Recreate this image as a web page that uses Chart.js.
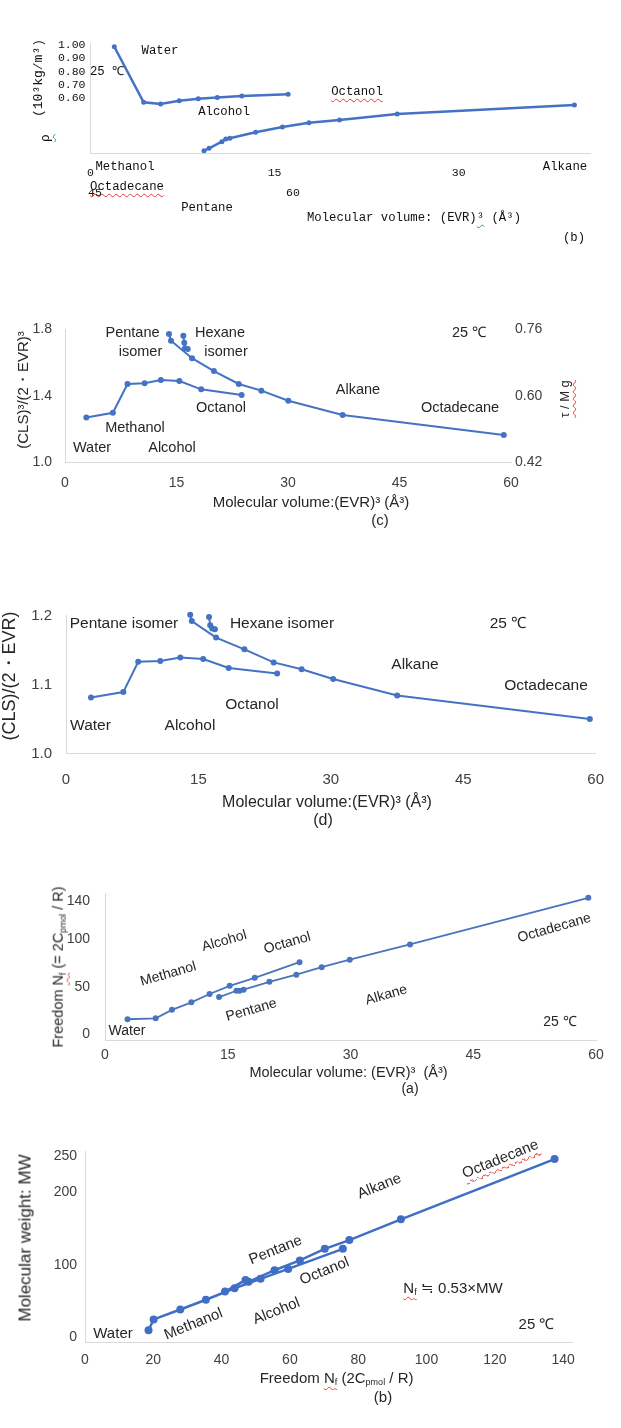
<!DOCTYPE html>
<html>
<head>
<meta charset="utf-8">
<script src="https://cdn.jsdelivr.net/npm/chart.js@4.4.1/dist/chart.umd.min.js"></script>
<style>
  body { margin: 0; background: #fff; }
  #page { position: relative; width: 621px; height: 1428px; overflow: hidden; background: #fff; }
  canvas { position: absolute; left: 0; }
  .t {
    position: absolute; white-space: nowrap; line-height: 1;
    color: #262626; font-family: "Liberation Sans", Arial, sans-serif;
  }
  .mono { font-family: "Liberation Mono", "DejaVu Sans Mono", monospace; color: #111; }
  .sq { text-decoration: underline wavy #e23b3b; text-underline-offset: 3px; text-decoration-thickness: 1px; }
  .sqg { text-decoration: underline wavy #3a9a3a; text-underline-offset: 3px; text-decoration-thickness: 1px; }
  sub { font-size: 0.6em; vertical-align: -0.3em; line-height: 0; }
</style>
</head>
<body>
<div id="page"></div>
<script>
// ========================================
// Data
// ========================================

// (b) density vs molecular volume (top panel)
const rhoAlcoholVol = [1.94, 4.33, 5.71, 7.23, 8.78, 10.33, 12.33, 16.1];
const rhoAlcohol    = [0.987, 0.570, 0.557, 0.582, 0.597, 0.607, 0.617, 0.630];
const rhoAlkaneVol  = [9.25, 9.66, 10.7, 11.02, 11.35, 13.45, 15.64, 17.8, 20.29, 24.99, 39.43];
const rhoAlkane     = [0.207, 0.225, 0.275, 0.295, 0.300, 0.345, 0.385, 0.417, 0.437, 0.482, 0.550];
const rhoXTicks = [0, 15, 30];
const rhoYTicks = [0.6, 0.7, 0.8, 0.9, 1.0];

// (c) (CLS)^3/(2*EVR)^3 vs molecular volume
const cubeAlcoholVol = [2.87, 6.44, 8.41, 10.71, 12.89, 15.39, 18.32, 23.76];
const cubeAlcohol    = [1.270, 1.298, 1.471, 1.475, 1.495, 1.489, 1.439, 1.405];
const cubeAlkaneVol  = [13.99, 14.26, 17.09, 20.03, 23.38, 26.42, 30.04, 37.35, 59.03];
const cubeAlkane     = [1.772, 1.731, 1.626, 1.549, 1.471, 1.431, 1.370, 1.284, 1.164];
const cubeHexaneVol  = [15.92, 16.05, 16.14, 16.51];
const cubeHexane     = [1.761, 1.719, 1.686, 1.681];
const cubeXTicks = [0, 15, 30, 45, 60];
const cubeYTicks = [1.0, 1.4, 1.8];
const cubeRightLabels = ['0.42', '0.60', '0.76'];

// (d) (CLS)/(2*EVR) vs molecular volume
const ratioAlcoholVol = [2.83, 6.49, 8.18, 10.68, 12.95, 15.54, 18.43, 23.92];
const ratioAlcohol    = [1.081, 1.089, 1.133, 1.134, 1.139, 1.137, 1.124, 1.116];
const ratioAlkaneVol  = [14.07, 14.25, 17.0, 20.21, 23.52, 26.69, 30.26, 37.52, 59.34];
const ratioAlkane     = [1.201, 1.192, 1.168, 1.151, 1.132, 1.122, 1.108, 1.084, 1.050];
const ratioHexaneVol  = [16.2, 16.34, 16.56, 16.87];
const ratioHexane     = [1.198, 1.186, 1.181, 1.180];
const ratioXTicks = [0, 15, 30, 45, 60];
const ratioYTicks = [1.0, 1.1, 1.2];

// (a) freedom Nf vs molecular volume
const nfAlcoholVol = [2.75, 6.19, 8.18, 10.55, 12.78, 15.24, 18.3, 23.77];
const nfAlcohol    = [16.0, 17.0, 25.9, 33.8, 42.6, 51.2, 59.7, 76.1];
const nfAlkaneVol  = [13.94, 16.06, 16.45, 16.94, 20.09, 23.38, 26.48, 29.91, 37.27, 59.06];
const nfAlkane     = [39.4, 46.0, 46.0, 47.2, 55.4, 63.0, 70.9, 78.7, 94.8, 144.0];
const nfXTicks = [0, 15, 30, 45, 60];
const nfYTicks = [0, 50, 100, 140];

// (b) molecular weight vs freedom Nf (bottom panel)
const mwAlcoholNf = [18.6, 20.1, 27.9, 35.4, 43.8, 51.4, 59.5, 75.5];
const mwAlcohol   = [9.1, 24.1, 37.8, 51.4, 67.3, 80.4, 94.1, 121.9];
const mwAlkaneNf  = [41.0, 47.0, 47.9, 55.5, 62.9, 70.2, 77.4, 92.5, 137.5];
const mwAlkane    = [62.7, 78.7, 76.3, 92.3, 105.9, 121.9, 134.1, 162.8, 246.3];
const mwXTicks = [0, 20, 40, 60, 80, 100, 120, 140];
const mwYTicks = [0, 100, 200, 250];

// ========================================
// Helpers
// ========================================
const page = document.getElementById('page');
const SANS = '"Liberation Sans", Arial, sans-serif';
const MONO = '"Liberation Mono", "DejaVu Sans Mono", monospace';

function pts(xs, ys) {
    return xs.map((x, i) => ({ x: x, y: ys[i] }));
}

function series(xs, ys, st) {
    return {
        data: pts(xs, ys),
        showLine: true,
        borderColor: st.color,
        backgroundColor: st.color,
        pointBackgroundColor: st.color,
        pointBorderColor: st.color,
        pointRadius: st.radius,
        pointBorderWidth: 0,
        borderWidth: st.width,
        clip: false,
        yAxisID: 'y'
    };
}

// the scale box is given a fixed size so the plot area lands where it is in the picture
function axis(a, common, horizontal, size) {
    return {
        type: 'linear',
        min: a.min,
        max: a.max,
        afterBuildTicks: s => { s.ticks = a.ticks.map(v => ({ value: v })); },
        afterFit: s => { if (horizontal) s.height = size; else s.width = size; },
        grid: { display: false, drawTicks: false },
        border: { display: a.border !== false, color: '#d9d9d9', width: 1 },
        ticks: {
            autoSkip: false,
            maxRotation: 0,
            padding: a.pad,
            color: common.color,
            font: common.font,
            callback: a.fmt || (v => String(v))
        }
    };
}

function panel(p) {
    const cv = document.createElement('canvas');
    cv.width = 621;
    cv.height = p.height;
    cv.style.top = p.top + 'px';
    page.appendChild(cv);

    const common = { color: p.tickColor || '#404040', font: p.tickFont };
    const scales = {
        x: axis(p.x, common, true, p.area.bottom),
        y: axis(p.y, common, false, p.area.left)
    };
    if (p.y1) {
        scales.y1 = axis(p.y1, common, false, p.area.right);
        scales.y1.position = 'right';
    }

    new Chart(cv, {
        type: 'scatter',
        data: { datasets: p.datasets },
        options: {
            responsive: false,
            animation: false,
            events: [],
            layout: { padding: { left: 0, bottom: 0, top: p.area.top, right: p.y1 ? 0 : p.area.right } },
            plugins: { legend: { display: false }, tooltip: { enabled: false } },
            scales: scales
        }
    });
}

function note(html, x, y, size, rot, cls) {
    const d = document.createElement('div');
    d.className = 't' + (cls ? ' ' + cls : '');
    d.innerHTML = html;
    d.style.left = x + 'px';
    d.style.top = y + 'px';
    d.style.fontSize = size + 'px';
    d.style.transform = 'translate(-50%,-50%) rotate(' + (rot || 0) + 'deg)';
    page.appendChild(d);
}

// ========================================
// Panels
// ========================================
const blue = { color: '#4472C4', radius: 3, width: 2 };

panel({
    top: 0, height: 250,
    area: { left: 90.5, right: 31, top: 43.3, bottom: 97 },
    tickFont: { family: MONO, size: 11.5 }, tickColor: '#111',
    x: { min: 0, max: 40.7, ticks: rhoXTicks, pad: 13 },
    y: { min: 0.19, max: 1.0128, ticks: rhoYTicks, pad: 5, fmt: v => v.toFixed(2) },
    datasets: [
        series(rhoAlcoholVol, rhoAlcohol, { color: '#4472C4', radius: 2.5, width: 2.5 }),
        series(rhoAlkaneVol, rhoAlkane, { color: '#4472C4', radius: 2.5, width: 2.5 })
    ]
});

panel({
    top: 290, height: 240,
    area: { left: 65, right: 110, top: 39.3, bottom: 67.7 },
    tickFont: { family: SANS, size: 14 },
    x: { min: 0, max: 60, ticks: cubeXTicks, pad: 12 },
    y: { min: 1.0, max: 1.8, ticks: cubeYTicks, pad: 13, fmt: v => v.toFixed(1) },
    y1: { min: 1.0, max: 1.8, ticks: cubeYTicks, pad: 4, border: false, fmt: (v, i) => cubeRightLabels[i] },
    datasets: [
        series(cubeAlcoholVol, cubeAlcohol, blue),
        series(cubeAlkaneVol, cubeAlkane, blue),
        series(cubeHexaneVol, cubeHexane, blue)
    ]
});

panel({
    top: 590, height: 240,
    area: { left: 66, right: 22, top: 25.5, bottom: 76.5 },
    tickFont: { family: SANS, size: 15 },
    x: { min: 0, max: 60, ticks: ratioXTicks, pad: 17 },
    y: { min: 1.0, max: 1.2, ticks: ratioYTicks, pad: 14, fmt: v => v.toFixed(1) },
    datasets: [
        series(ratioAlcoholVol, ratioAlcohol, blue),
        series(ratioAlkaneVol, ratioAlkane, blue),
        series(ratioHexaneVol, ratioHexane, blue)
    ]
});

panel({
    top: 870, height: 230,
    area: { left: 105, right: 25, top: 13, bottom: 59.3 },
    tickFont: { family: SANS, size: 14 },
    x: { min: 0, max: 60, ticks: nfXTicks, pad: 6 },
    y: { min: -6.6, max: 148.6, ticks: nfYTicks, pad: 15 },
    datasets: [
        series(nfAlcoholVol, nfAlcohol, { color: '#4a74c0', radius: 3, width: 1.8 }),
        series(nfAlkaneVol, nfAlkane, { color: '#4a74c0', radius: 3, width: 1.8 })
    ]
});

panel({
    top: 1135, height: 280,
    area: { left: 85, right: 49, top: 13, bottom: 72.7 },
    tickFont: { family: SANS, size: 14 },
    x: { min: 0, max: 142.6, ticks: mwXTicks, pad: 9 },
    y: { min: -7.6, max: 257, ticks: mwYTicks, pad: 8 },
    datasets: [
        series(mwAlcoholNf, mwAlcohol, { color: '#3f6fc4', radius: 4, width: 2.5 }),
        series(mwAlkaneNf, mwAlkane, { color: '#3f6fc4', radius: 4, width: 2.5 })
    ]
});

// ========================================
// Text labels
// ========================================
// top panel (b), monospace
note('Water', 160, 51, 12.3, 0, 'mono');
note('25 ℃', 107, 72, 12.3, 0, 'mono');
note('<span class="sq">Octanol</span>', 357, 92, 12.3, 0, 'mono');
note('Alcohol', 224, 112, 12.3, 0, 'mono');
note('Methanol', 125, 167, 12.3, 0, 'mono');
note('Alkane', 565, 167, 12.3, 0, 'mono');
note('<span class="sq">Octadecane</span>', 127, 187, 12.3, 0, 'mono');
note('45', 95, 193, 11.5, 0, 'mono');
note('60', 293, 193, 11.5, 0, 'mono');
note('Pentane', 207, 208, 12.3, 0, 'mono');
note('Molecular volume: (EVR)<span class="sqg">³</span> (Å³)', 414, 218, 12.3, 0, 'mono');
note('(b)', 574, 238, 12.3, 0, 'mono');
note('(10³kg/m³)', 38, 78, 13, -90, 'mono');
note('<span class="sqg">ρ</span>', 45, 138, 13, -90, 'mono');

// panel (c)
note('Pentane', 132.5, 332, 14.5);
note('isomer', 140.5, 351, 14.5);
note('Hexane', 220, 332, 14.5);
note('isomer', 226, 351, 14.5);
note('25 ℃', 469, 332, 14.5);
note('Alkane', 358, 389, 14.5);
note('Octanol', 221, 407, 14.5);
note('Octadecane', 460, 407, 14.5);
note('Methanol', 135, 427, 14.5);
note('Water', 92, 447, 14.5);
note('Alcohol', 172, 447, 14.5);
note('(CLS)³/(2・EVR)³', 22, 390, 15, -90);
note('<span class="sq">τ / M g</span>', 564, 399, 13, -90);
note('Molecular volume:(EVR)³ (Å³)', 311, 501, 15);
note('(c)', 380, 519, 15);

// panel (d)
note('Pentane isomer', 124, 623, 15.5);
note('Hexane isomer', 282, 623, 15.5);
note('25 ℃', 508, 623, 15.5);
note('Alkane', 415, 664, 15.5);
note('Octadecane', 546, 685, 15.5);
note('Octanol', 252, 704, 15.5);
note('Water', 90.5, 725, 15.5);
note('Alcohol', 190, 725, 15.5);
note('(CLS)/(2・EVR)', 9, 676, 18, -90);
note('Molecular volume:(EVR)³ (Å³)', 327, 802, 16);
note('(d)', 323, 820, 16);

// panel (a)
note('Alcohol', 224, 940, 14, -16);
note('Octanol', 287, 942, 14, -16);
note('Methanol', 167.5, 973, 14, -16);
note('Octadecane', 553.5, 927, 14, -16);
note('Alkane', 386, 994, 14, -16);
note('Pentane', 250.5, 1009, 14, -16);
note('Water', 127, 1030, 14);
note('25 ℃', 560, 1021, 14);
note('Freedom <span class="sq">N<sub>f</sub></span> (= 2C<sub>pmol</sub> / R)', 58, 967, 14.5, -90);
note('Molecular volume: (EVR)³ &nbsp;(Å³)', 348.5, 1072, 14.5);
note('(a)', 410, 1088, 14);

// bottom panel (b)
note('Water', 113, 1332, 15);
note('Methanol', 193, 1323, 15, -22);
note('Alcohol', 276, 1310, 15, -22);
note('Pentane', 275, 1249, 15, -22);
note('Octanol', 323.5, 1270, 15, -22);
note('Alkane', 379, 1185, 15, -22);
note('<span class="sq">Octadecane</span>', 500, 1158, 15, -22);
note('<span class="sq">N<sub>f</sub></span> ≒ 0.53×MW', 453, 1287, 15);
note('25 ℃', 536.5, 1323, 15);
note('Molecular weight: MW', 24.7, 1238, 17, -90);
note('Freedom <span class="sq">N<sub>f</sub></span> (2C<sub>pmol</sub> / R)', 336.6, 1377, 15);
note('(b)', 383, 1396, 15);
</script>
</body>
</html>
